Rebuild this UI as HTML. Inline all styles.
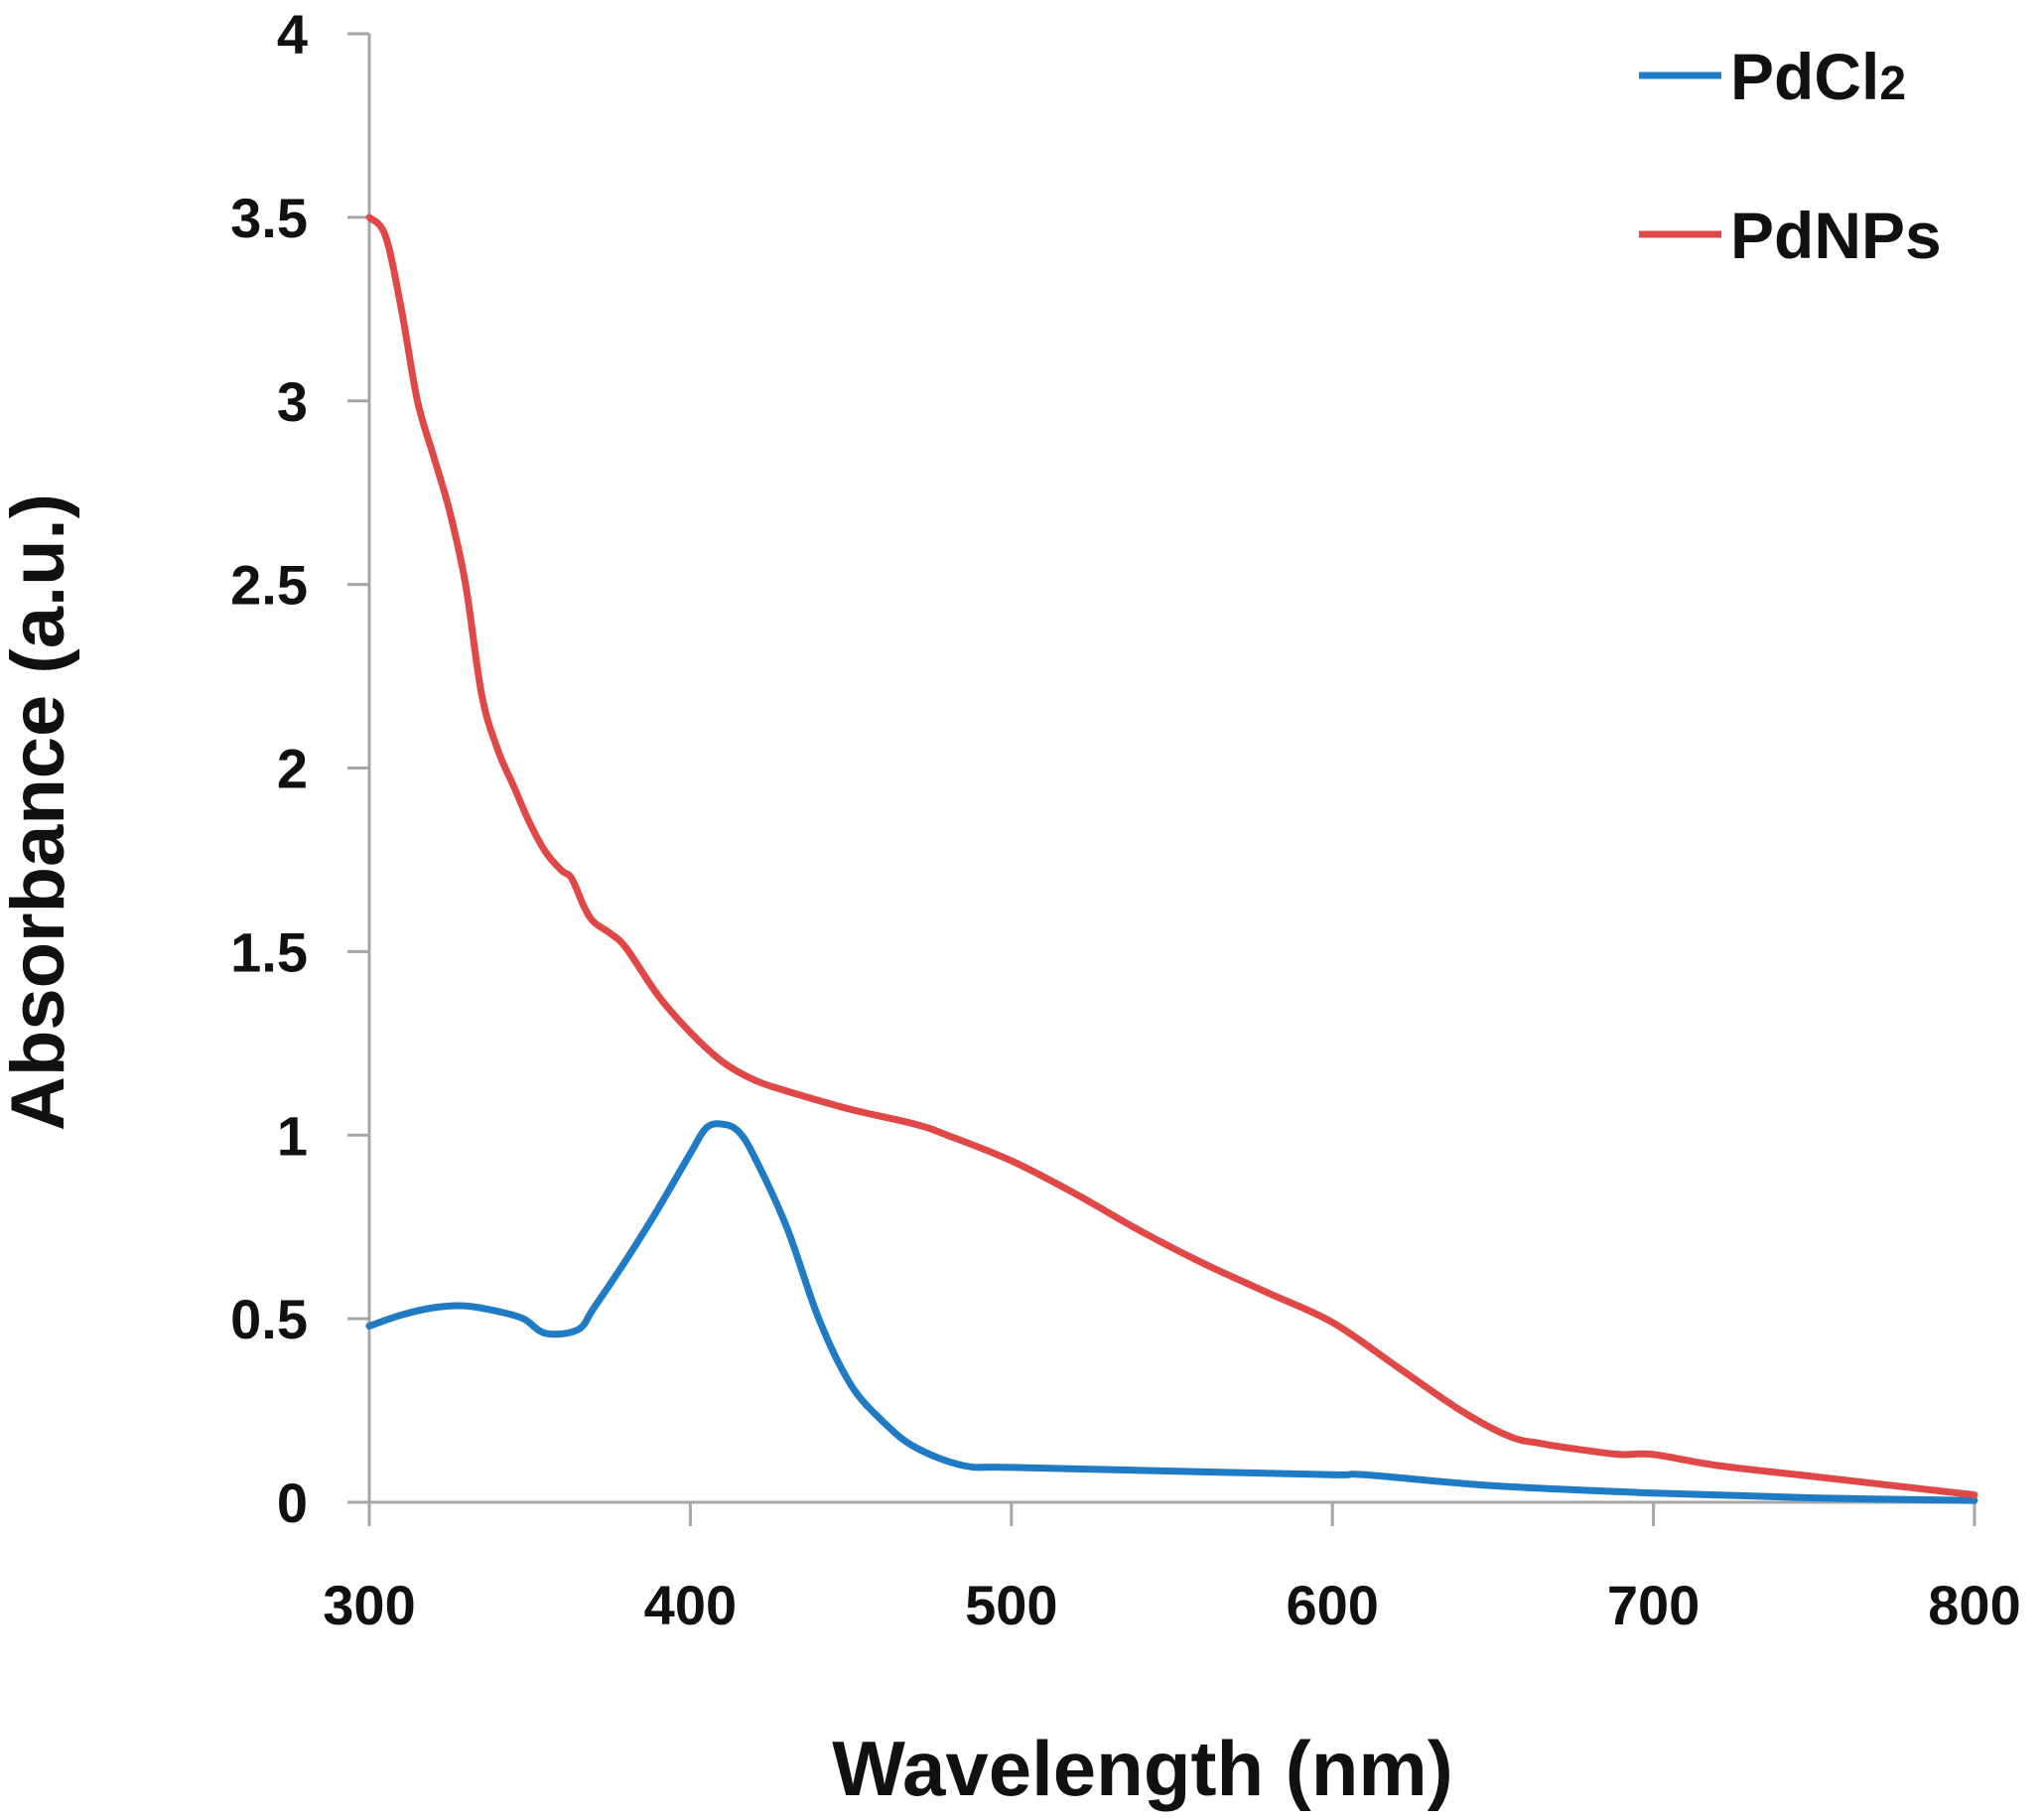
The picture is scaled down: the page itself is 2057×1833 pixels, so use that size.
<!DOCTYPE html>
<html><head><meta charset="utf-8"><style>
html,body{margin:0;padding:0;background:#fff;}
svg text{font-family:"Liberation Sans",sans-serif;font-weight:bold;fill:#111;}
</style></head><body>
<svg id="chart" width="2057" height="1828" xmlns="http://www.w3.org/2000/svg">
<g id="axes"></g>
<g id="series"></g>
<g id="legend">
  <line x1="1651" y1="76" x2="1734" y2="76" stroke="#1f7bc4" stroke-width="7"/>
  <text x="1743" y="100" font-size="66">PdCl<tspan font-size="48">2</tspan></text>
  <line x1="1651" y1="236" x2="1734" y2="236" stroke="#e04848" stroke-width="7"/>
  <text x="1743" y="260" font-size="66">PdNPs</text>
</g>
<text x="1151" y="1808" font-size="78" text-anchor="middle">Wavelength (nm)</text>
<text transform="translate(64,818) rotate(-90)" font-size="76" text-anchor="middle">Absorbance (a.u.)</text>
</svg>
<script>
const xTicks = [300,400,500,600,700,800];
const yTicks = [0,0.5,1,1.5,2,2.5,3,3.5,4];
const yTickLabels = ["0","0.5","1","1.5","2","2.5","3","3.5","4"];
const pdnpsX = [300,305,310,315,320,325,330,335,340,345,350,355,360,363,367,370,375,380,390,400,410,420,430,450,470,480,500,520,540,560,580,600,620,640,655,665,680,690,700,720,750,780,800];
const pdnpsY = [3.5,3.45,3.25,3.0,2.85,2.7,2.5,2.2,2.05,1.95,1.85,1.77,1.72,1.70,1.62,1.58,1.55,1.51,1.38,1.28,1.20,1.15,1.12,1.07,1.03,1.0,0.93,0.84,0.74,0.65,0.57,0.49,0.37,0.25,0.18,0.16,0.14,0.13,0.13,0.10,0.07,0.04,0.02];
const pdcl2X = [300,310,320,330,340,348,355,365,370,380,390,400,405,410,415,420,430,440,450,460,470,485,500,550,600,610,650,700,750,800];
const pdcl2Y = [0.48,0.51,0.53,0.535,0.52,0.50,0.46,0.47,0.53,0.66,0.80,0.95,1.02,1.03,1.01,0.94,0.75,0.50,0.32,0.22,0.15,0.10,0.095,0.085,0.075,0.075,0.045,0.025,0.012,0.005];

const NS="http://www.w3.org/2000/svg";
const X0=372,X1=1989,Y0=1513,Y1=34;
function sx(v){return X0+(v-300)/(800-300)*(X1-X0);}
function sy(v){return Y0-(v/4)*(Y0-Y1);}
function mk(tag,attrs,parent){const e=document.createElementNS(NS,tag);for(const k in attrs)e.setAttribute(k,attrs[k]);parent.appendChild(e);return e;}
const axes=document.getElementById('axes');
const ax=mk('line',{x1:X0,y1:Y0,x2:X1,y2:Y0,stroke:'#a6a6a6','stroke-width':3},axes);


const ay=mk('line',{x1:X0,y1:Y0,x2:X0,y2:Y1,stroke:'#a6a6a6','stroke-width':3},axes);


xTicks.forEach(v=>{
  const t=mk('line',{x1:sx(v),y1:Y0,x2:sx(v),y2:Y0+24,stroke:'#a6a6a6','stroke-width':3},axes);
  
  
  const l=mk('text',{x:sx(v),y:1636,'font-size':56,'text-anchor':'middle'},axes);
  l.textContent=v;
  
  
});
yTicks.forEach((v,i)=>{
  const t=mk('line',{x1:X0-22,y1:sy(v),x2:X0,y2:sy(v),stroke:'#a6a6a6','stroke-width':3},axes);
  
  
  const l=mk('text',{x:310,y:sy(v)+20,'font-size':56,'text-anchor':'end'},axes);
  l.textContent=yTickLabels[i];
  
  
});
const series=document.getElementById('series');
function line(xs,ys,color,name){
  const P=xs.map((x,i)=>[sx(x),sy(ys[i])]);
  let d='M'+P[0][0].toFixed(1)+' '+P[0][1].toFixed(1);
  for(let i=0;i<P.length-1;i++){
    const p0=P[Math.max(0,i-1)],p1=P[i],p2=P[i+1],p3=P[Math.min(P.length-1,i+2)];
    const c1=[p1[0]+(p2[0]-p0[0])/6,p1[1]+(p2[1]-p0[1])/6];
    const c2=[p2[0]-(p3[0]-p1[0])/6,p2[1]-(p3[1]-p1[1])/6];
    d+=' C'+c1[0].toFixed(1)+' '+c1[1].toFixed(1)+' '+c2[0].toFixed(1)+' '+c2[1].toFixed(1)+' '+p2[0].toFixed(1)+' '+p2[1].toFixed(1);
  }
  const p=mk('path',{d:d,fill:'none',stroke:color,'stroke-width':7,'stroke-linejoin':'round','stroke-linecap':'round'},series);
  
  
}
line(pdcl2X,pdcl2Y,'#1f7bc4','pdcl2-line');
line(pdnpsX,pdnpsY,'#e04848','pdnps-line');
</script>
</body></html>
